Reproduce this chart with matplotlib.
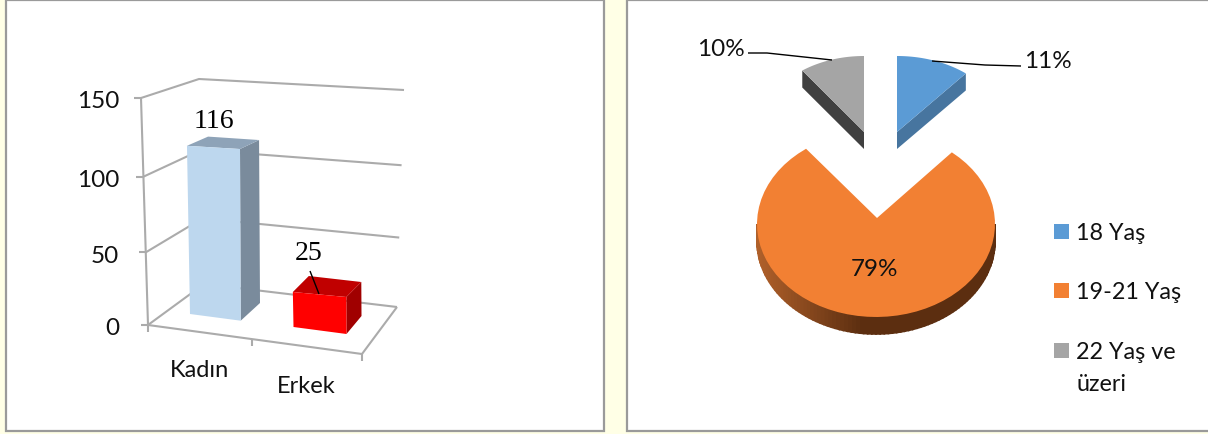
#!/usr/bin/env python
# two survey panels side by side: gender counts (3D columns) and age shares (3D pie)
import numpy as np
import matplotlib
matplotlib.use("Agg")
import matplotlib.pyplot as plt
from matplotlib.patches import Polygon, Rectangle
from matplotlib.colors import to_rgb

plt.rcParams["font.family"] = ["Lato", "DejaVu Sans"]

genders = ["Kadın", "Erkek"]
gender_counts = [116, 25]
y_ticks = [0, 50, 100, 150]

age_groups = ["18 Yaş", "19-21 Yaş", "22 Yaş ve\nüzeri"]
age_shares = [11, 79, 10]

PAGE = "#FFFFE6"
GRID = "#ABABAB"
BLUE, ORANGE, GRAY = "#5B9BD5", "#F28033", "#A5A5A5"

fig = plt.figure(figsize=(12.08, 4.35), dpi=100, facecolor=PAGE)
ax = fig.add_axes([0, 0, 1, 1])
ax.set_xlim(0, 1208); ax.set_ylim(435, 0); ax.axis("off")

# panels
for x0, x1 in [(6, 604), (627, 1212)]:
    ax.add_patch(Rectangle((x0, 0.5), x1 - x0, 431.5, fc="white", ec="#9A9A9A", lw=1.6))


def lerp(a, b, t):
    return (a[0] + (b[0] - a[0]) * t, a[1] + (b[1] - a[1]) * t)


def line(pts, color=GRID, lw=1.5, z=2):
    ax.plot([p[0] for p in pts], [p[1] for p in pts], color=color, lw=lw, zorder=z,
            solid_capstyle="butt", solid_joinstyle="miter")


# ---- left panel : 3D columns ------------------------------------------------
ymax = y_ticks[-1]
front_l = ((148, 326), (141, 99))
back_l = ((204, 285), (199, 80))
back_r = ((397, 308), (404, 91))
front_r = (362, 355)

for v in y_ticks:
    t = v / ymax
    t = 0.94 * t + 0.06 * t ** 2       # perspective: upper gridlines spread a little
    a, b, c = lerp(*front_l, t), lerp(*back_l, t), lerp(*back_r, t)
    line([a, b, c])
    line([(a[0] - 7, a[1]), a])
    ax.text(119, a[1] + 1, str(v), ha="right", va="center_baseline", fontsize=17.5, color="#111111")
line([front_l[0], front_l[1]])
line([front_l[0], front_r, back_r[0]])
for p in [front_l[0], lerp(front_l[0], front_r, 0.485), front_r]:
    line([p, (p[0], p[1] + 7)])

# footprint corners (x, y at value 0, px per unit, lean per unit):
# front-left, front-right, back-right, back-left
footprints = [
    [(190, 315, 1.45, -0.026), (240.7, 321.7, 1.48, -0.006), (260, 304, 1.405, -0.008), (209, 300, 1.4, -0.008)],
    [(293.5, 328, 1.40, -0.026), (346.5, 335, 1.48, -0.006), (361.5, 317, 1.36, -0.008), (309, 311, 1.36, -0.008)],
]
bar_colors = [("#BDD7EE", "#8EA3B8", "#7A8B9C"), ("#FF0000", "#C00000", "#A00000")]

for val, fp, (front, top, side) in zip(gender_counts, footprints, bar_colors):
    base = [(x, y) for x, y, k, lean in fp]
    lift = [(x + val * lean, y - val * k) for x, y, k, lean in fp]
    ax.add_patch(Polygon([lift[1], lift[2], base[2], base[1]], fc=side, ec="none", zorder=3))
    ax.add_patch(Polygon([lift[0], lift[1], lift[2], lift[3]], fc=top, ec="none", zorder=3))
    ax.add_patch(Polygon([lift[0], lift[1], base[1], base[0]], fc=front, ec="none", zorder=4))

ax.text(214, 122, str(gender_counts[0]), ha="center", va="center", family="Liberation Serif",
        fontsize=20, color="black", zorder=6)
ax.text(309, 253, str(gender_counts[1]), ha="center", va="center", family="Liberation Serif",
        fontsize=20, color="black", zorder=6)
line([(310, 272), (319, 295)], color="black", lw=1, z=6)

ax.text(199, 371, genders[0], ha="center", va="center", fontsize=17, color="#111111")
ax.text(306, 387, genders[1], ha="center", va="center", fontsize=17, color="#111111")

# ---- right panel : exploded 3D pie ------------------------------------------
DEPTH = 17
fracs = np.cumsum([0] + age_shares) / sum(age_shares) * 2 * np.pi


def ell(cx, cy, rx, ry, th):
    # th runs clockwise from twelve o'clock
    return np.column_stack([cx + rx * np.sin(th), cy - ry * np.cos(th)])


def wedge(apex, c, rx, ry, t0, t1, face, side):
    th = np.linspace(t0, t1, 60)
    arc = ell(c[0], c[1], rx, ry, th)
    # cut walls first, then the top face over them
    for end in (arc[0], arc[-1]):
        if side is not None:
            ax.add_patch(Polygon([end, apex, (apex[0], apex[1] + DEPTH), (end[0], end[1] + DEPTH)],
                                 fc=side, ec="none", zorder=3))
    ax.add_patch(Polygon(np.vstack([[apex], arc]), fc=face, ec="none", zorder=5))


# 18 Yaş slice
wedge((897, 133), (897, 133), 108, 76, fracs[0], fracs[1], BLUE, "#47759F")
# 22 Yaş ve üzeri slice
wedge((864, 133), (864, 133), 105, 76, fracs[2], fracs[3], GRAY, "#404040")

# 19-21 Yaş slice, outer wall shaded strip by strip
cx, cy, rx, ry = 876, 225, 119, 93
light, dark = np.array(to_rgb("#B0602A")), np.array(to_rgb("#5C2E10"))
th = np.linspace(np.pi / 2, 3 * np.pi / 2, 91)
for a, b in zip(th[:-1], th[1:]):
    p = ell(cx, cy, rx, ry, np.array([a, b]))
    u = np.clip((cx - 15 - p[:, 0].mean()) / (rx - 15), 0, 1)
    col = dark + (light - dark) * u
    ax.add_patch(Polygon([p[0], p[1], (p[1][0], p[1][1] + DEPTH), (p[0][0], p[0][1] + DEPTH)],
                         fc=col, ec=col, lw=1.2, zorder=3))
wedge((877, 219), (cx, cy), rx, ry, fracs[1], fracs[2], ORANGE, None)

ax.text(721, 48, f"{age_shares[2]}%", ha="center", va="center_baseline", fontsize=17.5, color="#111111", zorder=6)
ax.text(1048, 59, f"{age_shares[0]}%", ha="center", va="center_baseline", fontsize=17.5, color="#111111", zorder=6)
ax.text(874, 268, f"{age_shares[1]}%", ha="center", va="center_baseline", fontsize=17.5, color="#111111", zorder=6)
line([(748, 54), (767, 54), (832, 61)], color="black", lw=1, z=6)
line([(1021, 67), (985, 66), (932, 62)], color="black", lw=1, z=6)

# legend
for y, label, c in zip([225, 284, 344], age_groups, [BLUE, ORANGE, GRAY]):
    ax.add_patch(Rectangle((1054, y), 15, 15, fc=c, ec="none", zorder=6))
    ax.text(1076, y - 2, label, ha="left", va="top", fontsize=16.8, color="#111111",
            linespacing=1.62, zorder=6)

fig.savefig("out.png", dpi=100, facecolor=PAGE)
